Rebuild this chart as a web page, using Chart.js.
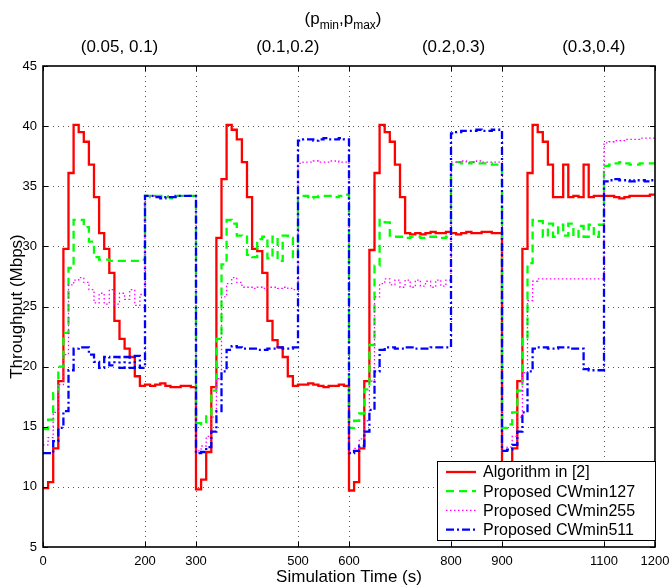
<!DOCTYPE html>
<html>
<head>
<meta charset="utf-8">
<script src="https://cdn.jsdelivr.net/npm/chart.js@4.4.1/dist/chart.umd.min.js"></script>
<style>
  html, body { margin: 0; padding: 0; background: #fff; }
</style>
</head>
<body>
<canvas id="chart" width="669" height="587"></canvas>
<script>
// time resolution of the simulation output (s)
const timeStep = 10;

const xTicks = [0, 200, 300, 500, 600, 800, 900, 1100, 1200];
const phaseLabels = ["(0.05, 0.1)", "(0.1,0.2)", "(0.2,0.3)", "(0.3,0.4)"];
const phaseLabelAt = [150, 480, 805, 1080];
const seriesNames = ["Algorithm in [2]", "Proposed CWmin127", "Proposed CWmin255", "Proposed CWmin511"];

// one value per 10 s interval, 0..1190 s
const algorithm2 = [
  9.9, 10.4, 13.2, 18.8, 29.8, 36.1, 40.1, 39.5, 38.7, 36.8,
  34.1, 31.1, 29.8, 27.8, 23.8, 22.3, 21.5, 20.8, 19.2, 18.4,
  18.5, 18.4, 18.5, 18.6, 18.4, 18.3, 18.3, 18.4, 18.4, 18.3,
  9.8, 10.6, 12.9, 18.3, 30.7, 35.6, 40.1, 39.7, 38.9, 37.0,
  34.1, 29.8, 29.6, 27.8, 23.8, 22.2, 21.6, 20.8, 19.2, 18.4,
  18.5, 18.5, 18.6, 18.5, 18.4, 18.3, 18.4, 18.4, 18.5, 18.4,
  9.7, 10.4, 13.2, 18.8, 29.7, 36.1, 40.1, 39.5, 38.7, 36.8,
  34.1, 31.1, 31.0, 31.1, 31.0, 31.1, 31.2, 31.1, 31.1, 31.2,
  31.1, 31.0, 31.1, 31.2, 31.1, 31.1, 31.2, 31.2, 31.1, 31.1,
  9.8, 10.5, 13.2, 18.8, 29.8, 36.1, 40.1, 39.5, 38.7, 36.8,
  34.1, 34.1, 36.8, 34.1, 34.2, 34.1, 36.8, 34.1, 34.2, 34.2,
  34.2, 34.2, 34.1, 34.0, 34.1, 34.2, 34.2, 34.2, 34.2, 34.3
];

const cwmin127 = [
  14.8, 15.6, 17.8, 20.0, 22.8, 28.2, 32.2, 32.2, 31.6, 30.4,
  29.1, 28.9, 28.9, 28.8, 28.8, 28.8, 28.8, 28.8, 28.8, 28.9,
  34.2, 34.1, 34.2, 34.2, 34.1, 34.0, 34.2, 34.2, 34.2, 34.2,
  15.3, 15.2, 16.0, 18.0, 22.3, 28.5, 32.2, 31.9, 30.9, 30.8,
  29.3, 29.1, 30.6, 30.8, 29.0, 30.8, 28.8, 30.9, 30.7, 29.1,
  34.2, 34.2, 34.0, 34.1, 34.2, 34.2, 34.2, 34.1, 34.2, 34.3,
  14.9, 15.5, 16.1, 18.1, 21.8, 28.4, 32.2, 32.0, 30.9, 30.8,
  30.8, 30.7, 30.8, 30.8, 30.7, 30.8, 30.8, 30.8, 30.7, 30.8,
  36.8, 37.0, 36.9, 36.9, 37.0, 36.9, 36.9, 36.9, 36.8, 36.8,
  14.9, 15.2, 16.2, 18.0, 22.3, 28.6, 32.2, 32.1, 30.8, 31.9,
  30.8, 31.8, 30.9, 31.9, 30.8, 31.7, 30.8, 31.8, 30.8, 31.8,
  36.7, 36.8, 36.9, 37.0, 36.9, 36.8, 36.8, 36.9, 36.9, 36.9
];

const cwmin255 = [
  13.5, 14.1, 16.2, 18.5, 21.0, 26.8, 27.2, 27.4, 27.0, 26.4,
  25.3, 26.1, 25.2, 26.4, 25.2, 26.1, 25.6, 26.4, 25.1, 26.0,
  34.2, 34.2, 34.1, 34.1, 34.2, 34.1, 34.2, 34.2, 34.2, 34.2,
  13.0, 13.4, 14.2, 15.8, 19.0, 25.8, 26.9, 27.4, 27.0, 26.6,
  26.6, 26.5, 26.6, 26.5, 26.6, 26.6, 26.5, 26.6, 26.5, 26.4,
  36.9, 37.0, 37.0, 37.1, 37.0, 37.0, 37.1, 37.1, 37.0, 37.0,
  13.0, 13.2, 14.0, 15.5, 18.8, 25.8, 26.9, 27.3, 26.8, 27.2,
  26.6, 27.2, 26.6, 27.2, 26.7, 27.1, 26.6, 27.2, 26.7, 27.2,
  37.0, 37.0, 37.1, 37.0, 37.0, 37.1, 37.0, 37.0, 37.0, 37.0,
  13.0, 13.3, 14.2, 15.8, 19.5, 25.5, 27.1, 27.3, 27.3, 27.3,
  27.3, 27.3, 27.3, 27.3, 27.3, 27.3, 27.3, 27.3, 27.3, 27.3,
  38.6, 38.7, 38.8, 38.8, 38.9, 38.9, 38.9, 39.0, 39.0, 39.0
];

const cwmin511 = [
  12.8, 12.8, 13.8, 14.9, 16.3, 19.7, 21.5, 21.6, 21.6, 21.0,
  20.4, 19.9, 20.8, 20.1, 20.8, 19.9, 20.8, 19.9, 20.9, 19.9,
  34.2, 34.2, 34.1, 34.0, 34.1, 34.1, 34.2, 34.2, 34.2, 34.2,
  12.8, 12.9, 13.3, 14.6, 16.3, 19.6, 21.4, 21.7, 21.6, 21.5,
  21.5, 21.5, 21.4, 21.4, 21.5, 21.5, 21.6, 21.5, 21.5, 21.6,
  38.8, 38.9, 38.9, 38.8, 38.9, 39.0, 38.9, 38.9, 39.0, 38.9,
  12.8, 13.0, 13.4, 14.6, 16.4, 19.6, 21.4, 21.6, 21.6, 21.5,
  21.5, 21.6, 21.6, 21.5, 21.5, 21.5, 21.6, 21.6, 21.6, 21.6,
  39.4, 39.5, 39.6, 39.6, 39.6, 39.7, 39.6, 39.6, 39.7, 39.7,
  13.0, 13.1, 13.5, 14.6, 16.2, 19.6, 21.5, 21.6, 21.6, 21.5,
  21.5, 21.6, 21.6, 21.5, 21.5, 21.5, 19.8, 19.7, 19.7, 19.7,
  35.4, 35.5, 35.6, 35.5, 35.5, 35.4, 35.5, 35.5, 35.4, 35.5
];

// each value holds until the next sample, last one until the end
function toSteps(vals) {
  const pts = vals.map((v, i) => ({ x: i * timeStep, y: v }));
  pts.push({ x: vals.length * timeStep, y: vals[vals.length - 1] });
  return pts;
}

const FONT = '"Liberation Sans", Arial, Helvetica, sans-serif';
Chart.defaults.font.family = FONT;
Chart.defaults.color = "#000";

const styles = [
  { color: "#ff0000", width: 2.3, dash: [] },
  { color: "#00ff00", width: 2.3, dash: [8, 5] },
  { color: "#ff00ff", width: 1.3, dash: [1.5, 2.5] },
  { color: "#0000ff", width: 2.3, dash: [8, 3, 2, 3] }
];
const allSeries = [algorithm2, cwmin127, cwmin255, cwmin511];

const datasets = allSeries.map((vals, i) => ({
  label: seriesNames[i],
  data: toSteps(vals),
  borderColor: styles[i].color,
  borderWidth: styles[i].width,
  borderDash: styles[i].dash,
  stepped: true,
  pointRadius: 0,
  fill: false,
  order: 4 - i
}));

// no extra room for overhanging tick labels, the padding option decides
function noOverhang(s) {
  s.paddingLeft = 0;
  s.paddingRight = 0;
}

const matlabFrame = {
  id: "matlabFrame",
  beforeDatasetsDraw(chart) {
    const { ctx, chartArea: a, scales: { x, y } } = chart;
    ctx.save();
    ctx.strokeStyle = "#555";
    ctx.lineWidth = 1;
    ctx.setLineDash([1, 4]);
    for (let v = 10; v < 45; v += 5) {
      const py = Math.round(y.getPixelForValue(v)) + 0.5;
      ctx.beginPath(); ctx.moveTo(a.left, py); ctx.lineTo(a.right, py); ctx.stroke();
    }
    xTicks.slice(1, -1).forEach(v => {
      const px = Math.round(x.getPixelForValue(v)) + 0.5;
      ctx.beginPath(); ctx.moveTo(px, a.top); ctx.lineTo(px, a.bottom); ctx.stroke();
    });
    ctx.restore();
  },
  afterDatasetsDraw(chart) {
    const { ctx, chartArea: a, scales: { x, y } } = chart;
    ctx.save();
    ctx.strokeStyle = "#000";
    ctx.lineWidth = 1;
    ctx.setLineDash([]);
    const tl = 5;
    xTicks.forEach(v => {
      const px = Math.round(x.getPixelForValue(v)) + 0.5;
      ctx.beginPath();
      ctx.moveTo(px, a.bottom); ctx.lineTo(px, a.bottom - tl);
      ctx.moveTo(px, a.top); ctx.lineTo(px, a.top + tl);
      ctx.stroke();
    });
    for (let v = 5; v <= 45; v += 5) {
      const py = Math.round(y.getPixelForValue(v)) + 0.5;
      ctx.beginPath();
      ctx.moveTo(a.left, py); ctx.lineTo(a.left + tl, py);
      ctx.moveTo(a.right, py); ctx.lineTo(a.right - tl, py);
      ctx.stroke();
    }
    ctx.lineWidth = 1.6;
    ctx.strokeRect(a.left, a.top, a.right - a.left, a.bottom - a.top);
    ctx.restore();
  },
  afterDraw(chart) {
    const { ctx, chartArea: a } = chart;
    ctx.save();

    // legend box, bottom right inside the axes
    const lw = 218, lh = 79;
    const lx = a.right - lw, ly = a.bottom - 7 - lh;
    ctx.fillStyle = "#fff";
    ctx.fillRect(lx, ly, lw, lh);
    ctx.strokeStyle = "#000";
    ctx.lineWidth = 1;
    ctx.strokeRect(lx + 0.5, ly + 0.5, lw, lh);
    ctx.font = "16px " + FONT;
    ctx.textBaseline = "middle";
    ctx.fillStyle = "#000";
    seriesNames.forEach((name, i) => {
      const ry = ly + 11 + i * 19.2;
      ctx.strokeStyle = styles[i].color;
      ctx.lineWidth = styles[i].width;
      ctx.setLineDash(styles[i].dash);
      ctx.beginPath(); ctx.moveTo(lx + 9, ry); ctx.lineTo(lx + 39, ry); ctx.stroke();
      ctx.setLineDash([]);
      ctx.fillText(name, lx + 46, ry + 1);
    });

    // (p_min,p_max) heading with subscripts
    const parts = [["(p", 0], ["min", 1], [",p", 0], ["max", 1], [")", 0]];
    const big = "17px " + FONT, small = "12px " + FONT;
    let total = 0;
    parts.forEach(([t, sub]) => { ctx.font = sub ? small : big; total += ctx.measureText(t).width; });
    let cx = (a.left + a.right) / 2 - 6 - total / 2;
    ctx.textBaseline = "alphabetic";
    ctx.textAlign = "left";
    parts.forEach(([t, sub]) => {
      ctx.font = sub ? small : big;
      ctx.fillText(t, cx, sub ? 29 : 24);
      cx += ctx.measureText(t).width;
    });

    // axis titles
    ctx.font = "17px " + FONT;
    ctx.textAlign = "center";
    ctx.textBaseline = "middle";
    ctx.fillText("Simulation Time (s)", (a.left + a.right) / 2, 577);
    ctx.translate(17, (a.top + a.bottom) / 2);
    ctx.rotate(-Math.PI / 2);
    ctx.fillText("Throughput (Mbps)", 0, 0);
    ctx.restore();
  }
};

new Chart(document.getElementById("chart"), {
  type: "line",
  data: { datasets },
  options: {
    responsive: false,
    animation: false,
    devicePixelRatio: 1,
    layout: { padding: { top: 0, right: 14, bottom: 0, left: 0 } },
    plugins: { legend: { display: false }, tooltip: { enabled: false } },
    scales: {
      x: {
        type: "linear", position: "bottom", min: 0, max: 1200,
        afterBuildTicks: s => { s.ticks = xTicks.map(v => ({ value: v })); },
        afterFit: s => { s.height = 40; noOverhang(s); },
        ticks: { autoSkip: false, maxRotation: 0, padding: 7, font: { size: 13 },
          callback: v => String(v) },
        grid: { display: false, drawTicks: false }, border: { display: false }
      },
      x2: {
        type: "linear", position: "top", min: 0, max: 1200,
        afterBuildTicks: s => { s.ticks = phaseLabelAt.map(v => ({ value: v })); },
        afterFit: s => { s.height = 66; noOverhang(s); },
        ticks: { autoSkip: false, maxRotation: 0, padding: 8, font: { size: 17 },
          callback: (v, i) => phaseLabels[i] },
        grid: { display: false, drawTicks: false }, border: { display: false }
      },
      y: {
        min: 5, max: 45,
        afterFit: s => { s.width = 43; },
        ticks: { stepSize: 5, padding: 6, font: { size: 13 } },
        grid: { display: false, drawTicks: false }, border: { display: false }
      }
    }
  },
  plugins: [matlabFrame]
});
</script>
</body>
</html>
